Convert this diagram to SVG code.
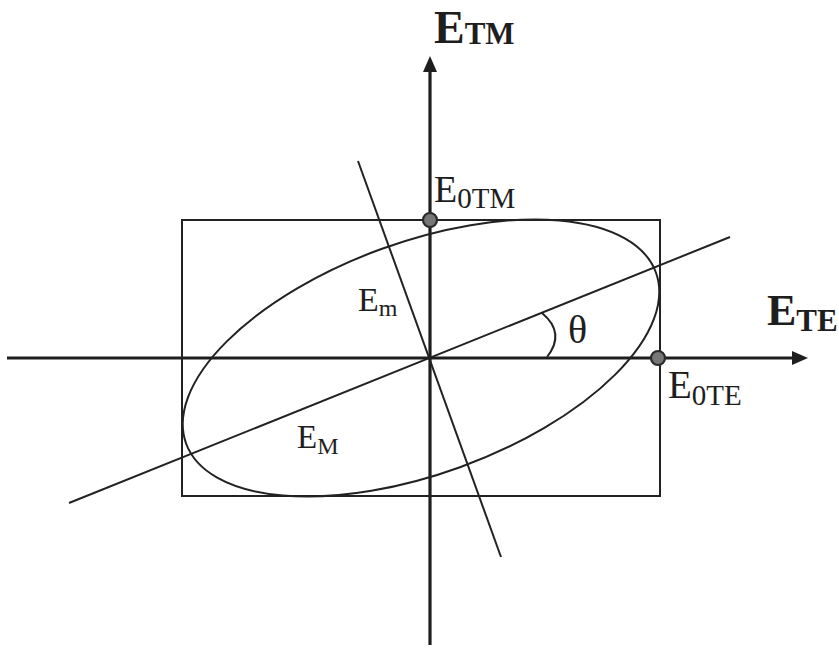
<svg xmlns="http://www.w3.org/2000/svg" width="839" height="650" viewBox="0 0 839 650">
<defs>
<style>
.ax{stroke:#1e1e1e;stroke-width:3.2;fill:none}
.ln{stroke:#222;stroke-width:2;fill:none}
.lbl{font-family:"Liberation Serif","Times New Roman",serif;fill:#1e1e1e}
.bold{font-weight:bold}
.pt{fill:#777;stroke:#2a2a2a;stroke-width:2.2}
</style>
<marker id="arr" markerWidth="16" markerHeight="14" refX="0" refY="7" orient="auto" markerUnits="userSpaceOnUse">
<path d="M0,0 L16,7 L0,14 z" fill="#1e1e1e"/>
</marker>
</defs>
<rect width="839" height="650" fill="#ffffff"/>
<g id="connectors">
<line id="axis-te" class="ax" x1="7" y1="358" x2="792" y2="358" marker-end="url(#arr)"/>
<line id="axis-tm" class="ax" x1="430" y1="645" x2="430" y2="72" marker-end="url(#arr)"/>
<line id="major-axis" class="ln" x1="69" y1="503" x2="730" y2="237"/>
<line id="minor-axis" class="ln" x1="358" y1="161" x2="501" y2="557"/>
<path id="theta-arc" class="ln" d="M542 313 Q566 333 547 357"/>
</g>
<g id="bounding-rect">
<rect class="ln" x="182" y="220" width="478" height="276"/>
</g>
<g id="ellipse">
<ellipse class="ln" cx="421" cy="358" rx="250" ry="116" transform="rotate(-20 421 358)"/>
</g>
<g id="label-etm">
<text class="lbl bold" x="434" y="43" font-size="46">E<tspan font-size="31" dy="1">TM</tspan></text>
</g>
<g id="label-ete">
<text class="lbl bold" x="767" y="325" font-size="44">E<tspan font-size="31" dy="6">TE</tspan></text>
</g>
<g id="point-e0tm">
<circle class="pt" cx="430" cy="220" r="7"/>
<text class="lbl" x="434" y="202" font-size="38">E<tspan font-size="29" dy="6">0TM</tspan></text>
</g>
<g id="point-e0te">
<circle class="pt" cx="658" cy="358" r="7"/>
<text class="lbl" x="668" y="398" font-size="39">E<tspan font-size="29" dy="7">0TE</tspan></text>
</g>
<g id="label-em">
<text class="lbl" x="358" y="311" font-size="34">E<tspan font-size="24" dy="5">m</tspan></text>
</g>
<g id="label-eM">
<text class="lbl" x="297" y="448" font-size="33">E<tspan font-size="24" dy="6">M</tspan></text>
</g>
<g id="label-theta">
<text class="lbl" x="568" y="343" font-size="40">θ</text>
</g>
</svg>
